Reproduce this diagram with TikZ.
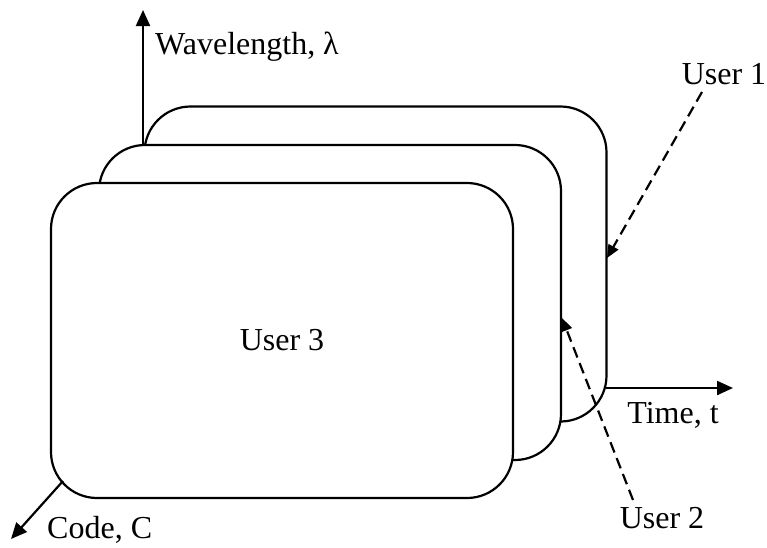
\documentclass[tikz,border=0pt]{standalone}
\usepackage{fontspec}
\setmainfont{Liberation Serif}
\usetikzlibrary{arrows.meta}
\begin{document}
\begin{tikzpicture}[x=1pt,y=-1pt,
  card/.style={draw, fill=white, line width=2.2pt, rounded corners=46pt, minimum width=462pt, minimum height=315pt, inner sep=0pt},
  axis/.style={line width=2.2pt, -{Triangle[length=16pt,width=14pt]}},
  pointer/.style={line width=2.2pt, dash pattern=on 11pt off 6pt, -{Triangle[length=13pt,width=11pt]}},
  lbl/.style={font=\fontsize{32}{36}\selectfont, inner sep=0pt}]
\useasboundingbox (0,0) rectangle (767,547);
\node[card] (back) at (375.5,264) {};
\node[card] (middle) at (330,302.5) {};
\node[card, lbl] (front) at (282,340.5) {User 3};
% axes
\coordinate (worig) at (143,144);
\coordinate (wtip) at (143,10);
\draw[axis] (worig) -- (wtip);
\coordinate (torig) at (606,388);
\coordinate (ttip) at (733,388);
\draw[axis] (torig) -- (ttip);
\coordinate (corig) at (63,481);
\coordinate (ctip) at (11,539);
\draw[axis] (corig) -- (ctip);
% labels
\node[lbl, anchor=west] (wl) at (155,47) {Wavelength, λ};
\node[lbl] (tl) at (673,415) {Time, t};
\node[lbl, anchor=west] (cl) at (47,530) {Code, C};
\node[lbl] (u1) at (724,74) {User 1};
\node[lbl] (u2) at (662,518) {User 2};
% pointers
\coordinate (u1s) at (702,92);
\coordinate (u1t) at (607,258);
\draw[pointer] (u1s) -- (u1t);
\coordinate (u2s) at (633,500);
\coordinate (u2t) at (562,318);
\draw[pointer] (u2s) -- (u2t);
\end{tikzpicture}
\end{document}
